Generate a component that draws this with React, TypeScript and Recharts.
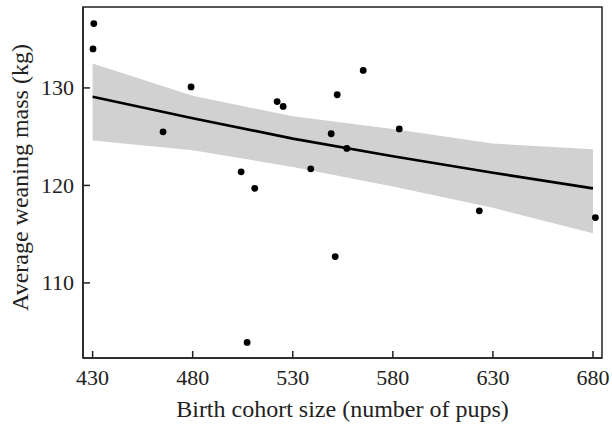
import React from 'react';
import { ComposedChart, Area, Line, Scatter, XAxis, YAxis, ReferenceArea } from 'recharts';

// observed cohorts
const cohortSize = [430.6, 430.2, 465.2, 479.2, 504.2, 511.0, 507.2, 522.2, 525.2, 539.0, 549.2, 552.2, 551.2, 557.0, 565.2, 583.2, 623.2, 681.2];
const weaningMass = [136.6, 134.0, 125.5, 130.1, 121.4, 119.7, 103.9, 128.6, 128.1, 121.7, 125.3, 129.3, 112.7, 123.8, 131.8, 125.8, 117.4, 116.7];

// fitted curve and confidence band
const fitX = [430, 480, 530, 580, 630, 680];
const fitMass = [129.1, 126.9, 124.8, 123.0, 121.3, 119.7];
const bandLow = [124.6, 123.6, 121.9, 119.9, 117.7, 115.1];
const bandHigh = [132.5, 129.2, 127.1, 125.8, 124.3, 123.7];

const xTicks = [430, 480, 530, 580, 630, 680];
const yTicks = [110, 120, 130];
const xDomain = [425.2, 684.5];
const yDomain = [102.3, 138.3];

const FONT = '"Liberation Serif", "Times New Roman", serif';
const INK = '#222';

const points = cohortSize.map((x, i) => ({ x, y: weaningMass[i] }));
const band = fitX.map((x, i) => ({ x, fit: fitMass[i], lo: bandLow[i], hi: bandHigh[i] }));

const XTick = (props: any) => {
  const { x, y, payload } = props;
  return (
    <g>
      <line x1={x} x2={x} y1={y} y2={y - 7} stroke={INK} strokeWidth={1.5} />
      <text x={x} y={y + 27} textAnchor="middle" fontSize={22} fontFamily={FONT} fill={INK}>
        {payload.value}
      </text>
    </g>
  );
};

const YTick = (props: any) => {
  const { x, y, payload } = props;
  return (
    <g>
      <line x1={x} x2={x + 7} y1={y} y2={y} stroke={INK} strokeWidth={1.5} />
      <text x={x - 9} y={y + 7.5} textAnchor="end" fontSize={22} fontFamily={FONT} fill={INK}>
        {payload.value}
      </text>
    </g>
  );
};

const XTitle = (props: any) => {
  const { viewBox } = props;
  return (
    <text x={viewBox.x + viewBox.width / 2} y={viewBox.y + 59} textAnchor="middle" fontSize={24} fontFamily={FONT} fill={INK}>
      Birth cohort size (number of pups)
    </text>
  );
};

const YTitle = (props: any) => {
  const { viewBox } = props;
  const cy = viewBox.y + viewBox.height / 2 - 5;
  return (
    <text x={28} y={cy} transform={`rotate(-90, 28, ${cy})`} textAnchor="middle" fontSize={24} fontFamily={FONT} fill={INK}>
      Average weaning mass (kg)
    </text>
  );
};

const Dot = (props: any) => <circle cx={props.cx} cy={props.cy} r={3.4} fill="#000" />;

export default function App() {
  return (
    <div style={{ position: 'absolute', left: 0, top: 0, background: '#fff' }}>
      <ComposedChart width={612} height={426} data={band} margin={{ top: 7, right: 10, bottom: 0, left: 0 }}>
        <XAxis
          dataKey="x"
          type="number"
          domain={xDomain}
          ticks={xTicks}
          allowDataOverflow
          height={68}
          tickSize={0}
          tickMargin={0}
          tickLine={false}
          tick={<XTick />}
          axisLine={{ stroke: INK, strokeWidth: 1.5 }}
          label={<XTitle />}
        />
        <YAxis
          type="number"
          domain={yDomain}
          ticks={yTicks}
          allowDataOverflow
          width={83}
          tickSize={0}
          tickMargin={0}
          tickLine={false}
          tick={<YTick />}
          axisLine={{ stroke: INK, strokeWidth: 1.5 }}
          label={<YTitle />}
        />
        <Area
          type="linear"
          dataKey={(d: any) => [d.lo, d.hi]}
          fill="#d1d1d1"
          fillOpacity={1}
          stroke="none"
          isAnimationActive={false}
        />
        <Line
          type="linear"
          dataKey="fit"
          stroke="#000"
          strokeWidth={2.6}
          dot={false}
          activeDot={false}
          isAnimationActive={false}
        />
        <Scatter data={points} dataKey="y" shape={<Dot />} isAnimationActive={false} />
        <ReferenceArea
          x1={xDomain[0]}
          x2={xDomain[1]}
          y1={yDomain[0]}
          y2={yDomain[1]}
          fill="none"
          fillOpacity={0}
          stroke={INK}
          strokeWidth={1.5}
          ifOverflow="visible"
        />
      </ComposedChart>
    </div>
  );
}
